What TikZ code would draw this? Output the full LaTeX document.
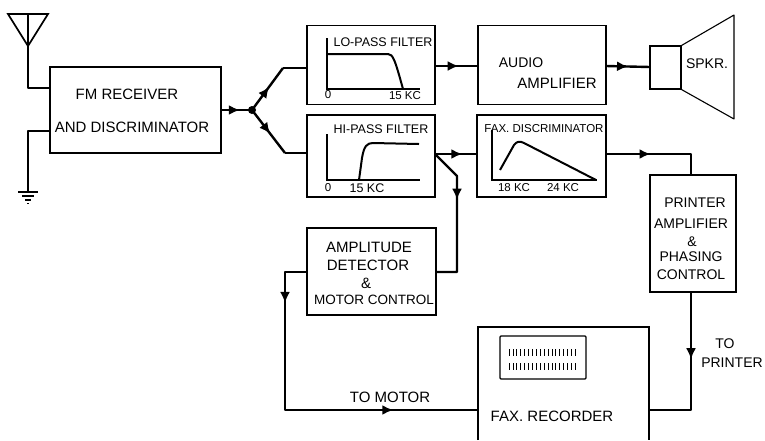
\documentclass[tikz,border=0pt]{standalone}
\usepackage{fontspec}
\setmainfont{Liberation Sans}
\usetikzlibrary{arrows.meta, decorations.markings}
\tikzset{
  blockbox/.style={draw, line width=1.1pt, inner sep=0pt},
  lab/.style={font=\fontsize{15}{16}\selectfont, inner sep=0pt},
  midlab/.style={font=\fontsize{14}{15}\selectfont, inner sep=0pt},
  smalllab/.style={font=\fontsize{12.5}{13}\selectfont, inner sep=0pt},
  kclab/.style={font=\fontsize{11.5}{12}\selectfont, inner sep=0pt},
  wire/.style={line width=2.4pt, line join=round},
  curve/.style={line width=2pt, line join=round},
  axis/.style={line width=1.1pt},
  midarrow/.style={postaction={decorate, decoration={markings,
    mark=at position #1 with {\arrow{Latex[length=11pt,width=10pt]}}}}}
}
\begin{document}
\begin{tikzpicture}[x=1pt,y=-1pt]
\useasboundingbox (0,0) rectangle (765,440);

% blocks
\node [blockbox, minimum width=171pt, minimum height=86pt] (fm) at (135.5,110) {};
\node [blockbox, minimum width=128pt, minimum height=79pt] (lopass) at (371,65) {};
\node [blockbox, minimum width=128pt, minimum height=79pt] (audio) at (542,65) {};
\node [blockbox, minimum width=128pt, minimum height=82pt] (hipass) at (371,156) {};
\node [blockbox, minimum width=129pt, minimum height=82pt] (faxdisc) at (541.5,156) {};
\node [blockbox, minimum width=129pt, minimum height=87pt] (ampdet) at (371.5,271.5) {};
\node [blockbox, minimum width=86pt, minimum height=117pt] (printer) at (693,233.5) {};
\node [blockbox, minimum width=31pt, minimum height=43pt] (spkbox) at (665.5,67.5) {};
\node [blockbox, minimum width=86pt, minimum height=43pt, rounded corners=1pt] (window) at (543,357.5) {};
\coordinate (recnw) at (478,327);
\coordinate (recne) at (649,327);
\draw [blockbox] (478,440) -- (recnw) -- (recne) -- (649,440);

% horn
\draw [line width=1.1pt, line join=round] (spkbox.north east) -- (734,15) -- (734,119) -- (spkbox.south east);

% window ticks
\foreach \x in {0,...,17} {
  \draw [line width=0.8pt] (509+\x*3.9,349) -- (509+\x*3.9,356);
  \draw [line width=0.8pt] (509+\x*3.9,363) -- (509+\x*3.9,369.5);
}

% antenna and ground
\coordinate (anttip) at (28,46);
\coordinate (anttop) at (28,14);
\coordinate (fmant) at (50,88);
\coordinate (fmgnd) at (50,131);
\coordinate (gnd) at (28,192);
\draw [line width=1.7pt, line join=miter] (8,14) -- (48,14) -- (anttip) -- cycle;
\draw [line width=1.7pt] (anttop) -- (anttip);
\draw [wire] (anttip) |- (fmant);
\draw [wire] (fmgnd) -| (gnd);
\draw [line width=1.8pt] (18,192) -- (38,192);
\draw [line width=1.3pt] (22,196) -- (34,196);
\draw [line width=1.1pt] (25,200) -- (31,200);
\draw [line width=1pt] (27,203) -- (29,203);

% split after the receiver
\coordinate (split) at (252,110);
\coordinate (splitup) at (283,68);
\coordinate (splitdn) at (285,153);
\coordinate (loin) at (307,68);
\coordinate (hiin) at (307,153);
\fill (split) circle (4pt);
\draw [wire, midarrow=0.6] (fm.east) -- (split);
\draw [wire, midarrow=0.55] (split) -- (splitup);
\draw [wire] (splitup) -- (loin);
\draw [wire, midarrow=0.55] (split) -- (splitdn);
\draw [wire] (splitdn) -- (hiin);

% main chain
\coordinate (loout) at (435,66);
\coordinate (audin) at (478,66);
\coordinate (audout) at (606,66);
\coordinate (spkin) at (650,67);
\coordinate (hiout) at (435,154);
\coordinate (faxin) at (477,154);
\coordinate (faxout) at (606,154);
\coordinate (bendfax) at (691,154);
\coordinate (prtop) at (691,175);
\coordinate (prbot) at (691,292);
\coordinate (bendrec) at (691,410);
\coordinate (recout) at (649,410);
\draw [wire, midarrow=0.55] (loout) -- (audin);
\draw [wire, midarrow=0.5] (audout) -- (spkin);
\draw [wire, midarrow=0.65] (hiout) -- (faxin);
\draw [wire, midarrow=0.42] (faxout) -- (bendfax) -- (prtop);
\draw [wire, midarrow=0.42] (prbot) -- (bendrec) -- (recout);

% amplitude detector branch
\coordinate (bendhi) at (457,176);
\coordinate (detout) at (436,272);
\coordinate (detin) at (307,272);
\coordinate (bendtop) at (285,272);
\coordinate (bendbot) at (285,410);
\coordinate (recin) at (478,410);
\draw [wire, midarrow=0.37] (hiout) -- (bendhi) |- (detout);
\draw [wire, midarrow=0.15, midarrow=0.76] (detin) -- (bendtop) -- (bendbot) -- (recin);

% filter sketches
\draw [axis] (327,38) -- (327,89) -- (420,89);
\draw [curve] (327,54) -- (388,54) .. controls (393,54) and (395,60) .. (403,89);
\draw [axis] (327,134) -- (327,180) -- (420,180);
\draw [curve] (359,180) -- (362,158) .. controls (364,146) and (367,143) .. (373,143) -- (419,144);
\draw [axis] (492,130) -- (492,180) -- (597,180);
\draw [curve] (500,170) -- (514,145) .. controls (517,141) and (520,141) .. (524,143) -- (596,180);

% labels
\node [lab] (fmtop) at (127,94) {FM RECEIVER};
\node [lab] (fmbot) at (132,127) {AND DISCRIMINATOR};
\node [smalllab] (lotitle) at (383,42) {LO-PASS FILTER};
\node [kclab] (lozero) at (328,95) {0};
\node [kclab] (lokc) at (405,96) {15 KC};
\node [smalllab] (hititle) at (381,129) {HI-PASS FILTER};
\node [kclab] (hizero) at (328,188) {0};
\node [smalllab] (hikc) at (367,188) {15 KC};
\node [font=\fontsize{11.5}{12}\selectfont, inner sep=0pt] (faxtitle) at (544,129) {FAX. DISCRIMINATOR};
\node [kclab] (faxa) at (514,188) {18 KC};
\node [kclab] (faxb) at (563,188) {24 KC};
\node [midlab] (audtop) at (521,63) {AUDIO};
\node [lab] (audbot) at (557,83) {AMPLIFIER};
\node [midlab] (spk) at (707,64) {SPKR.};
\node [midlab] (pra) at (695,203) {PRINTER};
\node [midlab] (prb) at (691,224) {AMPLIFIER};
\node [midlab] (prc) at (692,242) {\&};
\node [midlab] (prd) at (691,257) {PHASING};
\node [midlab] (pre) at (691,275) {CONTROL};
\node [lab] (deta) at (369,247) {AMPLITUDE};
\node [lab] (detb) at (368,265) {DETECTOR};
\node [lab] (detc) at (366,283) {\&};
\node [font=\fontsize{13.5}{14}\selectfont, inner sep=0pt] (detd) at (374,300) {MOTOR CONTROL};
\node [lab] (tomotor) at (390,397) {TO MOTOR};
\node [lab] (rec) at (552,416) {FAX. RECORDER};
\node [midlab] (toa) at (725,344) {TO};
\node [midlab] (tob) at (732,363) {PRINTER};
\end{tikzpicture}
\end{document}
